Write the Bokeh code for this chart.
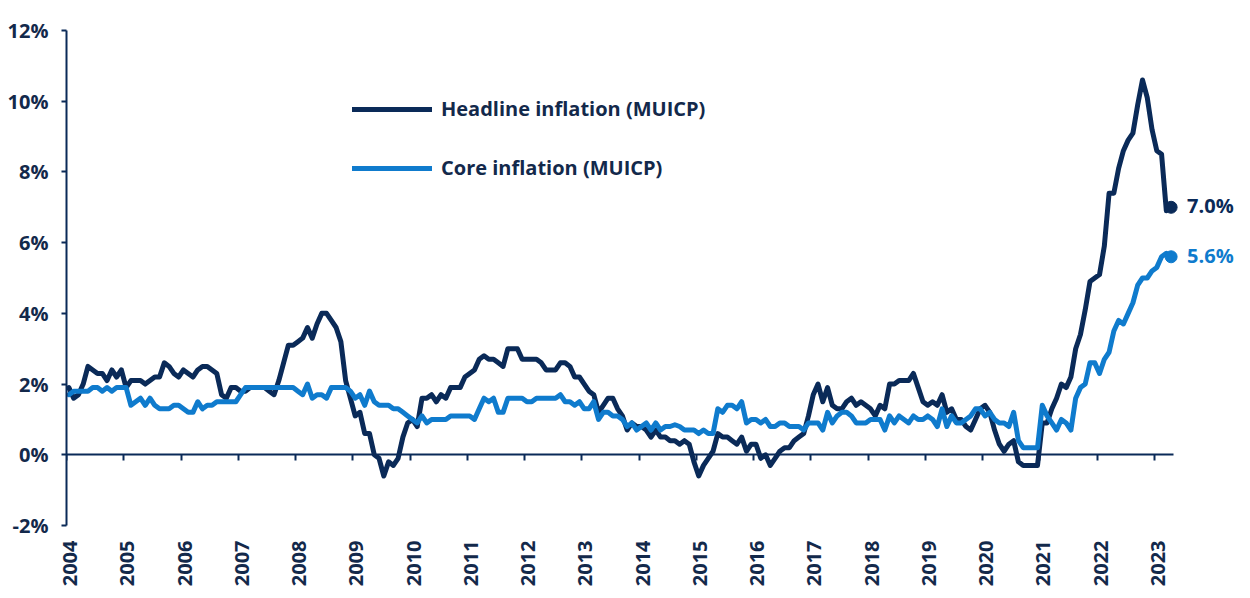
from math import pi
from bokeh.plotting import figure
from bokeh.models import Range1d, FixedTicker, LinearAxis, PrintfTickFormatter, Legend, LegendItem
from bokeh.embed import file_html
from bokeh.resources import INLINE
from bokeh.core.properties import value

# ---- data: monthly annual rates (%), Jan 2004 - Apr 2023 ----
headline_2004 = [1.9, 1.6, 1.7, 2.0, 2.5, 2.4, 2.3, 2.3, 2.1, 2.4, 2.2, 2.4]
headline_2005 = [1.9, 2.1, 2.1, 2.1, 2.0, 2.1, 2.2, 2.2, 2.6, 2.5, 2.3, 2.2]
headline_2006 = [2.4, 2.3, 2.2, 2.4, 2.5, 2.5, 2.4, 2.3, 1.7, 1.6, 1.9, 1.9]
headline_2007 = [1.8, 1.8, 1.9, 1.9, 1.9, 1.9, 1.8, 1.7, 2.1, 2.6, 3.1, 3.1]
headline_2008 = [3.2, 3.3, 3.6, 3.3, 3.7, 4.0, 4.0, 3.8, 3.6, 3.2, 2.1, 1.6]
headline_2009 = [1.1, 1.2, 0.6, 0.6, 0.0, -0.1, -0.6, -0.2, -0.3, -0.1, 0.5, 0.9]
headline_2010 = [1.0, 0.8, 1.6, 1.6, 1.7, 1.5, 1.7, 1.6, 1.9, 1.9, 1.9, 2.2]
headline_2011 = [2.3, 2.4, 2.7, 2.8, 2.7, 2.7, 2.6, 2.5, 3.0, 3.0, 3.0, 2.7]
headline_2012 = [2.7, 2.7, 2.7, 2.6, 2.4, 2.4, 2.4, 2.6, 2.6, 2.5, 2.2, 2.2]
headline_2013 = [2.0, 1.8, 1.7, 1.2, 1.4, 1.6, 1.6, 1.3, 1.1, 0.7, 0.9, 0.8]
headline_2014 = [0.8, 0.7, 0.5, 0.7, 0.5, 0.5, 0.4, 0.4, 0.3, 0.4, 0.3, -0.2]
headline_2015 = [-0.6, -0.3, -0.1, 0.1, 0.6, 0.5, 0.5, 0.4, 0.3, 0.5, 0.1, 0.3]
headline_2016 = [0.3, -0.1, 0.0, -0.3, -0.1, 0.1, 0.2, 0.2, 0.4, 0.5, 0.6, 1.1]
headline_2017 = [1.7, 2.0, 1.5, 1.9, 1.4, 1.3, 1.3, 1.5, 1.6, 1.4, 1.5, 1.4]
headline_2018 = [1.3, 1.1, 1.4, 1.3, 2.0, 2.0, 2.1, 2.1, 2.1, 2.3, 1.9, 1.5]
headline_2019 = [1.4, 1.5, 1.4, 1.7, 1.2, 1.3, 1.0, 1.0, 0.8, 0.7, 1.0, 1.3]
headline_2020 = [1.4, 1.2, 0.7, 0.3, 0.1, 0.3, 0.4, -0.2, -0.3, -0.3, -0.3, -0.3]
headline_2021 = [0.9, 0.9, 1.3, 1.6, 2.0, 1.9, 2.2, 3.0, 3.4, 4.1, 4.9, 5.0]
headline_2022 = [5.1, 5.9, 7.4, 7.4, 8.1, 8.6, 8.9, 9.1, 9.9, 10.6, 10.1, 9.2]
headline_2023 = [8.6, 8.5, 6.9, 7.0]

core_2004 = [1.7, 1.8, 1.8, 1.8, 1.8, 1.9, 1.9, 1.8, 1.9, 1.8, 1.9, 1.9]
core_2005 = [1.9, 1.4, 1.5, 1.6, 1.4, 1.6, 1.4, 1.3, 1.3, 1.3, 1.4, 1.4]
core_2006 = [1.3, 1.2, 1.2, 1.5, 1.3, 1.4, 1.4, 1.5, 1.5, 1.5, 1.5, 1.5]
core_2007 = [1.7, 1.9, 1.9, 1.9, 1.9, 1.9, 1.9, 1.9, 1.9, 1.9, 1.9, 1.9]
core_2008 = [1.8, 1.7, 2.0, 1.6, 1.7, 1.7, 1.6, 1.9, 1.9, 1.9, 1.9, 1.8]
core_2009 = [1.6, 1.7, 1.4, 1.8, 1.5, 1.4, 1.4, 1.4, 1.3, 1.3, 1.2, 1.1]
core_2010 = [1.0, 0.9, 1.1, 0.9, 1.0, 1.0, 1.0, 1.0, 1.1, 1.1, 1.1, 1.1]
core_2011 = [1.1, 1.0, 1.3, 1.6, 1.5, 1.6, 1.2, 1.2, 1.6, 1.6, 1.6, 1.6]
core_2012 = [1.5, 1.5, 1.6, 1.6, 1.6, 1.6, 1.6, 1.7, 1.5, 1.5, 1.4, 1.5]
core_2013 = [1.3, 1.3, 1.5, 1.0, 1.2, 1.2, 1.1, 1.1, 1.0, 0.8, 0.9, 0.7]
core_2014 = [0.8, 0.9, 0.7, 0.9, 0.7, 0.8, 0.8, 0.85, 0.8, 0.7, 0.7, 0.7]
core_2015 = [0.6, 0.7, 0.6, 0.6, 1.3, 1.2, 1.4, 1.4, 1.3, 1.5, 0.9, 1.0]
core_2016 = [1.0, 0.9, 1.0, 0.8, 0.8, 0.9, 0.9, 0.8, 0.8, 0.8, 0.7, 0.9]
core_2017 = [0.9, 0.9, 0.7, 1.2, 0.9, 1.1, 1.2, 1.2, 1.1, 0.9, 0.9, 0.9]
core_2018 = [1.0, 1.0, 1.0, 0.7, 1.1, 0.9, 1.1, 1.0, 0.9, 1.1, 1.0, 1.0]
core_2019 = [1.1, 1.0, 0.8, 1.3, 0.8, 1.1, 0.9, 0.9, 1.0, 1.1, 1.3, 1.3]
core_2020 = [1.1, 1.2, 1.0, 0.9, 0.9, 0.8, 1.2, 0.4, 0.2, 0.2, 0.2, 0.2]
core_2021 = [1.4, 1.1, 0.9, 0.7, 1.0, 0.9, 0.7, 1.6, 1.9, 2.0, 2.6, 2.6]
core_2022 = [2.3, 2.7, 2.9, 3.5, 3.8, 3.7, 4.0, 4.3, 4.8, 5.0, 5.0, 5.2]
core_2023 = [5.3, 5.6, 5.7, 5.6]

year_labels = ["2004", "2005", "2006", "2007", "2008", "2009", "2010", "2011", "2012", "2013",
               "2014", "2015", "2016", "2017", "2018", "2019", "2020", "2021", "2022", "2023"]
y_ticks = [-2, 0, 2, 4, 6, 8, 10, 12]
series_names = ["Headline inflation (MUICP)", "Core inflation (MUICP)"]

headline = (headline_2004 + headline_2005 + headline_2006 + headline_2007 + headline_2008 +
            headline_2009 + headline_2010 + headline_2011 + headline_2012 + headline_2013 +
            headline_2014 + headline_2015 + headline_2016 + headline_2017 + headline_2018 +
            headline_2019 + headline_2020 + headline_2021 + headline_2022 + headline_2023)
core = (core_2004 + core_2005 + core_2006 + core_2007 + core_2008 + core_2009 + core_2010 +
        core_2011 + core_2012 + core_2013 + core_2014 + core_2015 + core_2016 + core_2017 +
        core_2018 + core_2019 + core_2020 + core_2021 + core_2022 + core_2023)

n = len(headline)
x = [i + 0.5 for i in range(n)]
year_ticks = [12 * k for k in range(len(year_labels))]
label_ticks = [t + 0.75 for t in year_ticks]

NAVY = "#0a2a58"
BLUE = "#0f7bcd"
TEXT = "#13294b"
FONT = "Open Sans"
FS = "20px"

# layout: data axis spans 66..1173 px; frame extended to the right for end labels
FRAME_LEFT, AXIS_END, FRAME_RIGHT = 66, 1173, 1245
x_end = n * (FRAME_RIGHT - FRAME_LEFT) / (AXIS_END - FRAME_LEFT)

p = figure(width=1250, height=598, x_range=Range1d(0, x_end), y_range=Range1d(-2, 12),
           output_backend="svg", toolbar_location=None,
           min_border_left=FRAME_LEFT, min_border_right=1250 - FRAME_RIGHT,
           min_border_top=30, min_border_bottom=73)
p.xgrid.visible = False
p.ygrid.visible = False
p.outline_line_color = None
p.background_fill_color = "white"
p.border_fill_color = "white"

# bottom axis: labels only
xa = p.xaxis[0]
xa.ticker = FixedTicker(ticks=label_ticks)
xa.major_label_overrides = {t: lab for t, lab in zip(label_ticks, year_labels)}
xa.major_label_orientation = pi / 2
xa.axis_line_color = None
xa.major_tick_line_color = None
xa.minor_tick_line_color = None
xa.major_label_standoff = 9
xa.major_label_text_font = FONT
xa.major_label_text_font_style = "bold"
xa.major_label_text_font_size = FS
xa.major_label_text_color = TEXT

# zero line axis with ticks
zero_axis = LinearAxis(fixed_location=0, ticker=FixedTicker(ticks=year_ticks),
                       bounds=(0, n),
                       major_label_overrides={t: "" for t in year_ticks},
                       major_label_text_font_size="0px",
                       major_tick_in=6, major_tick_out=0,
                       major_tick_line_color=NAVY, major_tick_line_width=2,
                       minor_tick_line_color=None,
                       axis_line_color=NAVY, axis_line_width=2)
p.add_layout(zero_axis, "above")

ya = p.yaxis[0]
ya.ticker = FixedTicker(ticks=y_ticks)
ya.formatter = PrintfTickFormatter(format="%d%%")
ya.axis_line_color = NAVY
ya.axis_line_width = 2
ya.major_tick_line_color = NAVY
ya.major_tick_line_width = 2
ya.major_tick_out = 5
ya.major_tick_in = 0
ya.minor_tick_line_color = None
ya.major_label_standoff = 13
ya.major_label_text_font = FONT
ya.major_label_text_font_style = "bold"
ya.major_label_text_font_size = FS
ya.major_label_text_color = TEXT

r_head = p.line(x, headline, line_width=5, color=NAVY, line_join="round", line_cap="round")
r_core = p.line(x, core, line_width=5, color=BLUE, line_join="round", line_cap="round")

p.scatter([x[-1]], [headline[-1]], size=12, color=NAVY)
p.scatter([x[-1]], [core[-1]], size=12, color=BLUE)
p.text([x[-1]], [headline[-1]], text=[f"{headline[-1]:.1f}%"], x_offset=16, y_offset=-2,
       text_baseline="middle", text_align="left", text_font=value(FONT),
       text_font_style="bold", text_font_size=FS, text_color=NAVY)
p.text([x[-1]], [core[-1]], text=[f"{core[-1]:.1f}%"], x_offset=16, y_offset=-1,
       text_baseline="middle", text_align="left", text_font=value(FONT),
       text_font_style="bold", text_font_size=FS, text_color=BLUE)

legend = Legend(items=[LegendItem(label=series_names[0], renderers=[r_head]),
                       LegendItem(label=series_names[1], renderers=[r_core])],
                location=(286, 344), orientation="vertical",
                glyph_width=80, glyph_height=20, label_height=20, label_standoff=9,
                spacing=32, padding=0, margin=0,
                border_line_color=None, background_fill_alpha=0,
                label_text_font=FONT, label_text_font_style="bold",
                label_text_font_size=FS, label_text_color=TEXT)
p.add_layout(legend)

open("out.html", "w").write(file_html(p, INLINE))
